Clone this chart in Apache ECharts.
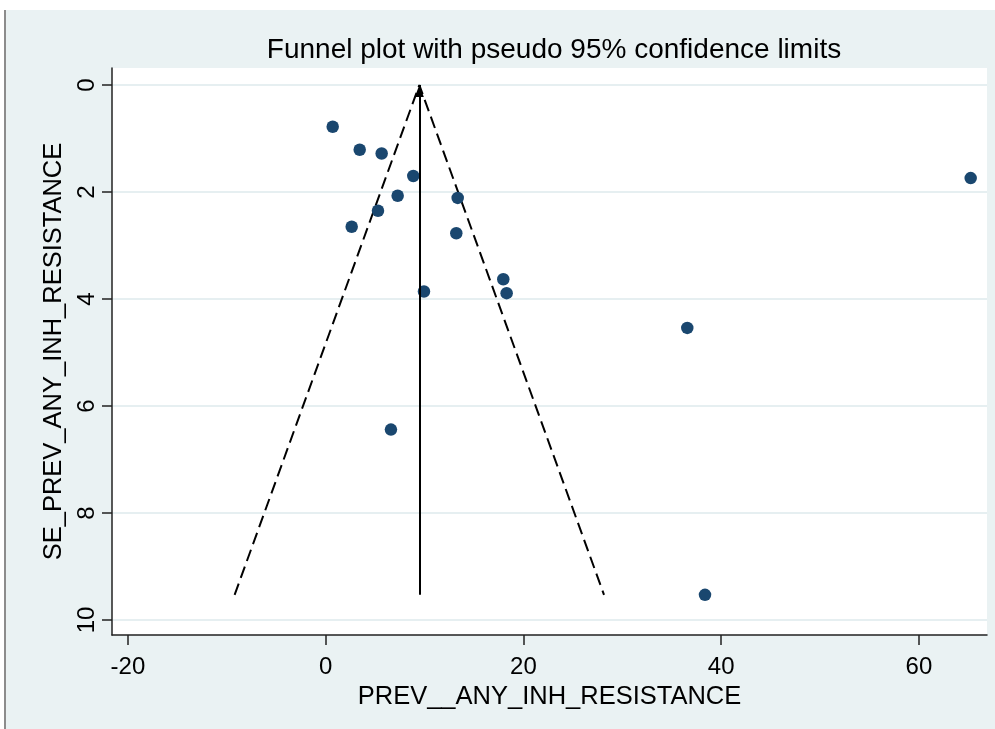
<!DOCTYPE html>
<html>
<head>
<meta charset="utf-8">
<script src="https://cdn.jsdelivr.net/npm/echarts@6/dist/echarts.min.js"></script>
<style>
  html, body { margin: 0; padding: 0; background: #ffffff; }
  #chart { width: 995px; height: 729px; }
</style>
</head>
<body>
<div id="chart"></div>
<script>
// Study estimates: prevalence of any INH resistance (%) and its standard error
const prevalence = [0.71, 3.44, 5.66, 8.86, 7.28, 5.29, 2.63, 13.35, 13.21, 17.96, 18.30, 9.94, 36.57, 6.60, 38.36, 65.23];
const standardError = [0.78, 1.21, 1.28, 1.70, 2.07, 2.35, 2.65, 2.11, 2.77, 3.63, 3.89, 3.86, 4.54, 6.44, 9.53, 1.74];

// Pooled estimate and pseudo 95% confidence limits at the largest standard error
const pooledEstimate = 9.47;
const maxStandardError = 9.53;
const lowerLimitAtMax = -9.21;
const upperLimitAtMax = 28.15;

// Axis tick labels
const xTicks = [-20, 0, 20, 40, 60];
const yTicks = [0, 2, 4, 6, 8, 10];

const FONT = '"Liberation Sans", Arial, sans-serif';
const INK = '#000000';

const points = prevalence.map((v, i) => [v, standardError[i]]);
const funnelLimits = [
  [lowerLimitAtMax, maxStandardError],
  [pooledEstimate, 0],
  [upperLimitAtMax, maxStandardError]
];

const chart = echarts.init(document.getElementById('chart'), null, { renderer: 'canvas' });

chart.setOption({
  animation: false,
  backgroundColor: '#ffffff',
  graphic: [
    // graph region background and its left frame line
    { type: 'rect', z: -10, silent: true,
      shape: { x: 6, y: 10, width: 989, height: 719 },
      style: { fill: '#eaf2f3' } },
    { type: 'rect', z: -9, silent: true,
      shape: { x: 4, y: 10, width: 2, height: 719 },
      style: { fill: '#8c8c8c' } }
  ],
  title: {
    text: 'Funnel plot with pseudo 95% confidence limits',
    left: 549, top: 31, textAlign: 'center',
    textStyle: { fontFamily: FONT, fontSize: 28, fontWeight: 'normal', color: INK }
  },
  grid: {
    left: 112, right: 8, top: 68, bottom: 94,
    show: true, backgroundColor: '#ffffff', borderWidth: 0
  },
  xAxis: {
    type: 'value',
    min: -21.61, max: 66.88,
    name: 'PREV__ANY_INH_RESISTANCE',
    nameLocation: 'middle', nameGap: 42,
    nameTextStyle: { fontFamily: FONT, fontSize: 25.5, color: INK },
    axisLine: { show: true, onZero: false, lineStyle: { color: '#222', width: 1.5 } },
    axisTick: { show: true, length: 10, lineStyle: { color: '#222', width: 1.5 }, customValues: xTicks },
    axisLabel: { customValues: xTicks, margin: 20, fontFamily: FONT, fontSize: 24, color: INK },
    splitLine: { show: false }
  },
  yAxis: {
    type: 'value',
    inverse: true,
    min: -0.318, max: 10.28,
    name: 'SE_PREV_ANY_INH_RESISTANCE',
    nameLocation: 'middle', nameGap: 44, nameRotate: 90,
    nameTextStyle: { fontFamily: FONT, fontSize: 25.5, color: INK },
    axisLine: { show: true, onZero: false, lineStyle: { color: '#222', width: 1.5 } },
    axisTick: { show: true, length: 10, lineStyle: { color: '#222', width: 1.5 }, customValues: yTicks },
    axisLabel: { customValues: yTicks, rotate: 90, margin: 13, fontFamily: FONT, fontSize: 24, color: INK },
    splitLine: { show: true, lineStyle: { color: '#e6eff1', width: 2 } }
  },
  series: [
    {
      name: 'limits',
      type: 'line',
      data: funnelLimits,
      symbol: 'none',
      lineStyle: { color: '#000', width: 2, type: [12, 6] },
      z: 2,
      markLine: {
        silent: true,
        symbol: ['none', 'triangle'],
        symbolSize: [9, 12],
        symbolOffset: [0, [0, 6]],
        label: { show: false },
        lineStyle: { color: '#000', width: 2, type: 'solid' },
        data: [[
          { coord: [pooledEstimate, maxStandardError] },
          { coord: [pooledEstimate, 0] }
        ]]
      }
    },
    {
      name: 'studies',
      type: 'scatter',
      data: points,
      symbol: 'circle',
      symbolSize: 12.5,
      itemStyle: { color: '#1a476f', opacity: 1 },
      z: 3
    }
  ]
});
</script>
</body>
</html>
